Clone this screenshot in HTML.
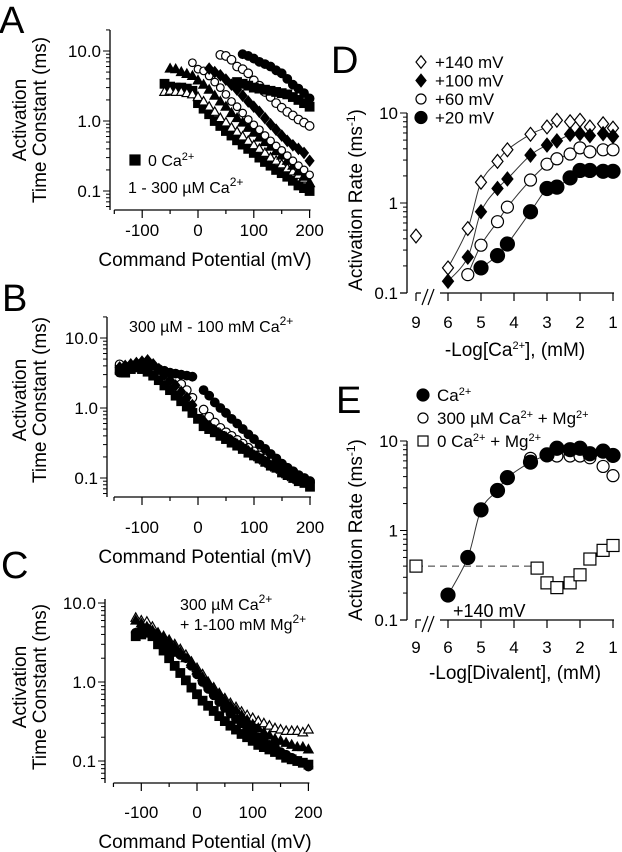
<!DOCTYPE html>
<html><head><meta charset="utf-8">
<style>
html,body{margin:0;padding:0;background:#fff;}
svg{display:block;font-family:"Liberation Sans",Arial,sans-serif;}
</style></head>
<body>
<svg id="fig" width="622" height="852" viewBox="0 0 622 852" xmlns="http://www.w3.org/2000/svg"></svg>
<script>
// ---------- Panel A data (tau, ms), voltages start + step 10 mV ----------
const aSqLowV0 = -60;
const aSqLow = [3.4,3.1,3.0,3.0,2.9,2.7,1.8,1.5,1.25,1.0,0.85,0.72,0.62,0.53,0.46,0.4,0.35,0.3,0.26,0.23,0.2,0.18,0.16,0.14,0.12,0.11,0.1];
const aTriOpenV0 = -60;
const aTriOpen = [2.6,2.7,2.6,2.6,2.5,2.4,2.2,1.9,1.6,1.35,1.1,0.95,0.8,0.7,0.6,0.52,0.45,0.4,0.35,0.3,0.27,0.24,0.21,0.19,0.17,0.15,0.13];
const aTriFillV0 = -50;
const aTriFill = [5.6,5.5,5.0,4.7,4.4,3.8,3.3,2.8,2.3,1.9,1.6,1.3,1.1,0.95,0.8,0.68,0.58,0.5,0.43,0.37,0.32,0.27,0.23,0.19,0.16,0.13];
const aCircSmV0 = -10;
const aCircSm = [6.8,5.5,5.2,4.4,3.6,3.0,2.4,1.9,1.6,1.3,1.05,0.88,0.75,0.62,0.52,0.44,0.38,0.32,0.27,0.23,0.2,0.17];
const aDiaFillV0 = 20;
const aDiaFill = [5.6,5.0,4.5,3.9,3.3,2.8,2.3,1.9,1.6,1.35,1.1,0.9,0.75,0.62,0.52,0.45,0.4,0.35,0.27];
const aCircLgV0 = 40;
const aCircLg = [8.8,8.5,7.5,6.0,5.5,4.8,3.8,3.2,2.6,2.2,1.8,1.55,1.35,1.2,1.05,0.95,0.85];
const aSqHighV0 = 70;
const aSqHigh = [3.6,3.4,3.2,3.0,2.9,2.8,2.7,2.6,2.5,2.4,2.2,2.0,1.8,1.6];
const aCircFillV0 = 80;
const aCircFill = [9.0,8.5,7.8,7.0,6.5,6.0,5.3,4.8,4.0,3.3,2.9,2.5,2.1];

// ---------- Panel B data ----------
const bV0 = -140;
const bSq = [3.5,3.2,3.6,3.8,3.6,3.3,2.9,2.5,2.1,1.8,1.5,1.25,1.05,0.85,0.7,0.55,0.5,0.45,0.4,0.36,0.32,0.29,0.26,0.23,0.21,0.19,0.17,0.15,0.14,0.12,0.11,0.1,0.09,0.085,0.075];
const bCircOpen = [4.2,3.8,4.0,4.2,4.4,4.0,3.8,3.5,3.2,2.9,2.6,2.2,1.8,1.4,null,0.95,0.75,0.62,0.52,0.45,0.4,0.35,0.31,0.27,0.24,0.21,0.19,0.17,0.15,0.13,0.12,0.11,0.1,0.095,0.09];
const bDia = [3.8,4.0,4.2,4.4,4.6,4.8,4.2,3.6,3.0,2.5,2.1,1.7,1.4,1.1,null,0.65,0.55,0.48,0.42,0.38,0.34,0.3,0.27,0.24,0.21,0.19,0.17,0.15,0.14,0.12,0.11,0.1,0.095,0.09,0.085];
const bCircFill = [3.2,3.5,3.8,4.0,4.2,4.5,4.0,3.6,3.4,3.2,3.1,3.0,2.9,2.8,null,1.8,1.5,1.2,1.0,0.85,0.7,0.6,0.5,0.42,0.36,0.3,0.26,0.22,0.19,0.16,0.14,0.125,0.11,0.1,0.09];

// ---------- Panel C data ----------
const cV0 = -110;
const cTriOpen = [6.5,6.0,5.8,5.0,4.2,3.8,3.4,3.0,2.6,2.2,1.8,1.5,1.25,1.0,0.85,0.72,0.62,0.54,0.48,0.42,0.38,0.35,0.32,0.3,0.28,0.26,0.25,0.24,0.24,0.24,0.23,0.25];
const cTriFill = [6.0,5.5,5.0,4.5,4.0,3.6,3.2,2.8,2.4,2.0,1.7,1.4,1.15,0.95,0.8,0.68,0.58,0.5,0.44,0.38,0.33,0.29,0.26,0.23,0.21,0.19,0.18,0.17,0.16,0.15,0.15,0.14];
const cSq = [3.8,4.0,4.2,3.8,3.0,2.5,2.0,1.6,1.3,1.05,0.85,0.7,0.58,0.5,0.43,0.37,0.32,0.28,0.25,0.22,0.2,0.18,0.16,0.15,0.14,0.13,0.12,0.11,0.105,0.1,0.095,0.09];
const cCircFill = [4.2,4.5,4.8,4.2,3.5,3.0,2.6,2.4,2.2,2.0,1.6,1.25,1.0,0.82,0.68,0.56,0.47,0.4,0.34,0.3,0.26,0.23,0.2,0.18,0.16,0.15,0.13,0.12,0.11,0.1,0.095,0.085];

// ---------- Panel D data (-log[Ca], rate ms^-1) ----------
const d140X = [9,6,5.4,5,4.5,4.2,3.5,3,2.7,2.3,2,1.7,1.3,1];
const d140Y = [0.43,0.19,0.52,1.7,2.9,3.9,5.8,7.0,8.3,8.0,8.3,7.0,7.6,6.8];
const d100X = [6,5.4,5,4.5,4.2,3.5,3,2.7,2.3,2,1.7,1.3,1];
const d100Y = [0.135,0.25,0.8,1.45,1.85,3.4,4.4,4.9,5.8,5.9,5.6,5.9,5.5];
const d60X = [5.4,5,4.5,4.2,3.5,3,2.7,2.3,2,1.7,1.3,1];
const d60Y = [0.16,0.34,0.62,0.9,1.8,2.7,3.1,3.5,4.1,3.7,3.9,3.9];
const d20X = [5,4.5,4.2,3.5,3,2.7,2.3,2,1.7,1.3,1];
const d20Y = [0.19,0.26,0.35,0.8,1.45,1.5,1.9,2.3,2.3,2.25,2.25];

// ---------- Panel E data ----------
const eCaX = [6,5.4,5,4.5,4.2,3.5,3,2.7,2.3,2,1.7,1.3,1];
const eCaY = [0.19,0.5,1.7,2.8,3.9,5.8,7.0,8.3,8.0,8.3,7.2,7.7,6.9];
const eMgX = [3.5,3,2.7,2.3,2,1.7,1.3,1];
const eMgY = [6.4,7.0,6.8,6.8,6.8,6.5,5.2,4.1];
const eSqX = [9,3.3,3,2.7,2.3,2,1.7,1.3,1];
const eSqY = [0.4,0.38,0.26,0.23,0.26,0.32,0.48,0.6,0.68];

const NS = "http://www.w3.org/2000/svg";
const svg = document.getElementById('fig');
function mk(tag, attrs, parent){
  const e = document.createElementNS(NS, tag);
  for (const k in attrs) e.setAttribute(k, attrs[k]);
  (parent||svg).appendChild(e);
  return e;
}
function txt(s, x, y, size, anchor, parent, name){
  const t = mk('text', {x:x, y:y, 'font-size':size, 'text-anchor':anchor||'start', fill:'#000'}, parent);
  t.innerHTML = s;
  
  
  return t;
}
function marker(g, type, x, y, r){
  let e;
  const sw = 1.2;
  if (type==='sqF' || type==='sqO'){
    e = mk('rect', {x:x-r, y:y-r, width:2*r, height:2*r, fill: type==='sqF'?'#000':'#fff', stroke:'#000','stroke-width':sw}, g);
  } else if (type==='ciF' || type==='ciO'){
    e = mk('circle', {cx:x, cy:y, r:r, fill: type==='ciF'?'#000':'#fff', stroke:'#000','stroke-width':sw}, g);
  } else if (type==='trF' || type==='trO'){
    e = mk('polygon', {points:`${x},${y-r*1.15} ${x-r*1.1},${y+r*0.8} ${x+r*1.1},${y+r*0.8}`, fill: type==='trF'?'#000':'#fff', stroke:'#000','stroke-width':sw}, g);
  } else {
    e = mk('polygon', {points:`${x},${y-r*1.25} ${x+r},${y} ${x},${y+r*1.25} ${x-r},${y}`, fill: type==='diF'?'#000':'#fff', stroke:'#000','stroke-width':sw}, g);
  }
  
  
}

// ---------- voltage panels ----------
function vPanel(p){
  const g = mk('g', {});
  
  
  const X = v => p.x0 + v*p.sx;
  const Y = t => p.y1 - Math.log10(t)*p.dec;
  const ya = mk('line', {x1:p.yAx, y1:p.yTop, x2:p.yAx, y2:p.yBot, stroke:'#000','stroke-width':1.3}, g);
   
  for (let d=-2; d<=1; d++){
    for (let m=1; m<=9; m++){
      const v = m*Math.pow(10,d); const yy = Y(v);
      if (yy < p.yTop-0.5 || yy > p.yBot+0.5) continue;
      mk('line', {x1:p.yAx-(m===1?7:4), y1:yy, x2:p.yAx, y2:yy, stroke:'#000','stroke-width':1}, g);
    }
  }
  [[10,'10.0'],[1,'1.0'],[0.1,'0.1']].forEach(([v,s])=>txt(s, p.yAx-9, Y(v)+6, 17, 'end', g, 'y-tick-label'));
  const xa = mk('line', {x1:X(-150), y1:p.yBot, x2:X(200)+1, y2:p.yBot, stroke:'#000','stroke-width':1.3}, g);
   
  for (let v=-150; v<=200; v+=50){
    const maj = v%100===0;
    mk('line', {x1:X(v), y1:p.yBot, x2:X(v), y2:p.yBot+(maj?8:4), stroke:'#000','stroke-width':1.2}, g);
    if (maj) txt(String(v), X(v), p.tickY, 17, 'middle', g, 'x-tick-label');
  }
  txt('Command Potential (mV)', 205, p.titleY, 19, 'middle', g, 'x-axis-title');
  const yl = mk('g', {transform:`translate(0,${p.labY}) rotate(-90)`}, g);
   
  txt('Activation', 0, 26, 19, 'middle', yl, 'y-axis-title-line1');
  txt('Time Constant (ms)', 0, 46, 19, 'middle', yl, 'y-axis-title-line2');
  p.series.forEach(s=>{
    const sg = mk('g', {}, g);
     
    s.data.forEach((t,i)=>{ if (t==null) return; marker(sg, s.type, X(s.v0+i*10), Y(t), s.r||4.3); });
  });
  return g;
}

vPanel({name:'panel-a', x0:198, sx:0.558, y1:121, dec:70, yAx:110, yTop:30, yBot:210, tickY:236, titleY:266, labY:120,
  series:[
    {name:'series-a-0ca-squares', type:'sqF', v0:aSqLowV0, data:aSqLow},
    {name:'series-a-open-triangles', type:'trO', v0:aTriOpenV0, data:aTriOpen},
    {name:'series-a-filled-triangles', type:'trF', v0:aTriFillV0, data:aTriFill},
    {name:'series-a-small-circles', type:'ciO', v0:aCircSmV0, data:aCircSm, r:3.8},
    {name:'series-a-filled-diamonds', type:'diF', v0:aDiaFillV0, data:aDiaFill},
    {name:'series-a-open-circles', type:'ciO', v0:aCircLgV0, data:aCircLg, r:4.3},
    {name:'series-a-upper-squares', type:'sqF', v0:aSqHighV0, data:aSqHigh},
    {name:'series-a-filled-circles', type:'ciF', v0:aCircFillV0, data:aCircFill},
  ]});
vPanel({name:'panel-b', x0:198, sx:0.56, y1:408, dec:70, yAx:107, yTop:317, yBot:497, tickY:533, titleY:563, labY:400,
  series:[
    {name:'series-b-open-circles', type:'ciO', v0:bV0, data:bCircOpen},
    {name:'series-b-diamonds', type:'diF', v0:bV0, data:bDia},
    {name:'series-b-filled-circles', type:'ciF', v0:bV0, data:bCircFill},
    {name:'series-b-squares', type:'sqF', v0:bV0, data:bSq},
  ]});
vPanel({name:'panel-c', x0:197, sx:0.557, y1:682, dec:79, yAx:105, yTop:599, yBot:783, tickY:818, titleY:848, labY:687,
  series:[
    {name:'series-c-open-triangles', type:'trO', v0:cV0, data:cTriOpen},
    {name:'series-c-filled-triangles', type:'trF', v0:cV0, data:cTriFill},
    {name:'series-c-squares', type:'sqF', v0:cV0, data:cSq},
    {name:'series-c-filled-circles', type:'ciF', v0:cV0, data:cCircFill},
  ]});

// ---------- concentration panels ----------
function cPanel(p){
  const g = mk('g', {});
   
  const X = v => v>=8 ? 416 : 448 + (6-v)*33;
  const Y = t => p.y10 - (Math.log10(t)-1)*p.dec;
  const yb = Y(0.1);
  const ya = mk('line', {x1:407, y1:Y(10), x2:407, y2:yb, stroke:'#000','stroke-width':1.3}, g);
   
  mk('line', {x1:400, y1:yb, x2:407, y2:yb, stroke:'#000','stroke-width':1.3}, g);
  for (let d=-1; d<=0; d++) for (let m=1; m<=10; m++){
    const yy = Y(m*Math.pow(10,d));
    mk('line', {x1:407-(m===1||m===10?7:4), y1:yy, x2:407, y2:yy, stroke:'#000','stroke-width':1}, g);
  }
  [[10,'10'],[1,'1'],[0.1,'0.1']].forEach(([v,s])=>txt(s, 398, Y(v)+6, 17, 'end', g, 'y-tick-label'));
  mk('line', {x1:416, y1:yb, x2:421, y2:yb, stroke:'#000','stroke-width':1.3}, g);
  mk('line', {x1:416, y1:yb, x2:416, y2:yb+8, stroke:'#000','stroke-width':1.2}, g);
  mk('line', {x1:422, y1:yb+12, x2:428, y2:yb-4, stroke:'#000','stroke-width':1.2}, g);
  mk('line', {x1:428, y1:yb+12, x2:434, y2:yb-4, stroke:'#000','stroke-width':1.2}, g);
  const xa = mk('line', {x1:440, y1:yb, x2:614, y2:yb, stroke:'#000','stroke-width':1.3}, g);
   
  [9,6,5,4,3,2,1].forEach(v=>{
    if (v!==9) mk('line', {x1:X(v), y1:yb, x2:X(v), y2:yb+8, stroke:'#000','stroke-width':1.2}, g);
    txt(String(v), X(v), p.tickY, 17, 'middle', g, 'x-tick-label');
  });
  txt(p.xTitle, 515, p.titleY, 19, 'middle', g, 'x-axis-title');
  const yl = mk('g', {transform:`translate(362,${p.labY}) rotate(-90)`}, g);
   
  txt('Activation Rate (ms<tspan font-size="12" dy="-7">-1</tspan><tspan dy="7">)</tspan>', 0, 0, 19, 'middle', yl, 'y-axis-title-text');
  p.curves.forEach(c=>{
    const pts = c.x.map((v,i)=>[v,c.y[i]]).filter(q=>q[0]<8 && q[0]>=c.min).map(q=>[X(q[0]),Y(q[1])]);
    let d = `M${pts[0][0]},${pts[0][1]}`;
    for (let i=0;i<pts.length-1;i++){
      const p0=pts[Math.max(0,i-1)], p1=pts[i], p2=pts[i+1], p3=pts[Math.min(pts.length-1,i+2)];
      d += ` C${p1[0]+(p2[0]-p0[0])/6},${p1[1]+(p2[1]-p0[1])/6} ${p2[0]-(p3[0]-p1[0])/6},${p2[1]-(p3[1]-p1[1])/6} ${p2[0]},${p2[1]}`;
    }
    const path = mk('path', {d:d, fill:'none', stroke:'#333','stroke-width':1}, g);
     
  });
  if (p.dash){
    const dl = mk('line', {x1:X(9), y1:Y(p.dash.y), x2:X(p.dash.x2), y2:Y(p.dash.y), stroke:'#333','stroke-width':1,'stroke-dasharray':'7,5'}, g);
     
  }
  p.series.forEach(s=>{
    const sg = mk('g', {}, g);
     
    s.x.forEach((v,i)=>marker(sg, s.type, X(v), Y(s.y[i]), s.r));
  });
  p.legend.forEach((l,i)=>{
    const lg = mk('g', {}, g);
     
    marker(lg, l.type, p.legX, p.legY + i*p.legDy - 5, l.r);
    txt(l.label, p.legX+14, p.legY + i*p.legDy + 1, 17, 'start', lg, 'legend-label');
  });
  return g;
}

cPanel({name:'panel-d', y10:113, dec:90, tickY:328, titleY:356, labY:200, xTitle:'-Log[Ca<tspan font-size="11" dy="-7">2+</tspan><tspan dy="7">],  (mM)</tspan>',
  curves:[{x:d140X,y:d140Y,min:2.7},{x:d100X,y:d100Y,min:2.3},{x:d60X,y:d60Y,min:2},{x:d20X,y:d20Y,min:2}],
  series:[
    {name:'series-d-140mv', type:'diO', x:d140X, y:d140Y, r:5.5},
    {name:'series-d-100mv', type:'diF', x:d100X, y:d100Y, r:5.5},
    {name:'series-d-60mv', type:'ciO', x:d60X, y:d60Y, r:6},
    {name:'series-d-20mv', type:'ciF', x:d20X, y:d20Y, r:7},
  ],
  legX:421, legY:67, legDy:18.5,
  legend:[{type:'diO',r:5,label:'+140 mV'},{type:'diF',r:5,label:'+100 mV'},{type:'ciO',r:5,label:'+60 mV'},{type:'ciF',r:6,label:'+20 mV'}]});

cPanel({name:'panel-e', y10:441, dec:89.5, tickY:653, titleY:679, labY:530, xTitle:'-Log[Divalent],  (mM)',
  curves:[{x:eCaX,y:eCaY,min:2.7}],
  dash:{y:0.4, x2:3.3},
  series:[
    {name:'series-e-mg-300ca', type:'ciO', x:eMgX, y:eMgY, r:6},
    {name:'series-e-ca', type:'ciF', x:eCaX, y:eCaY, r:7},
    {name:'series-e-0ca-mg', type:'sqO', x:eSqX, y:eSqY, r:6},
  ],
  legX:423, legY:400, legDy:23,
  legend:[{type:'ciF',r:6,label:'Ca<tspan font-size="11" dy="-6">2+</tspan>'},
          {type:'ciO',r:5,label:'300 µM Ca<tspan font-size="11" dy="-6">2+</tspan><tspan dy="6"> + Mg</tspan><tspan font-size="11" dy="-6">2+</tspan>'},
          {type:'sqO',r:5,label:'0 Ca<tspan font-size="11" dy="-6">2+</tspan><tspan dy="6"> + Mg</tspan><tspan font-size="11" dy="-6">2+</tspan>'}]});
txt('+140 mV', 453, 617, 18, 'start', svg, 'voltage-annotation');

const la = mk('g', {});  
marker(la, 'sqF', 135, 160, 5);
txt('0 Ca<tspan font-size="11" dy="-6">2+</tspan>', 148, 166, 16, 'start', la, 'legend-label');
txt('1 - 300 µM Ca<tspan font-size="12" dy="-7">2+</tspan>', 128, 193, 16, 'start', svg, 'legend-label');
txt('300 µM - 100 mM Ca<tspan font-size="12" dy="-7">2+</tspan>', 129, 332, 16, 'start', svg, 'condition-label');
txt('300 µM Ca<tspan font-size="12" dy="-7">2+</tspan>', 180, 610, 16, 'start', svg, 'condition-label');
txt('+ 1-100 mM Mg<tspan font-size="12" dy="-7">2+</tspan>', 180, 630, 16, 'start', svg, 'condition-label');

txt('A', -1, 33, 38, 'start', svg, 'panel-letter-a');
txt('B', 2, 311, 38, 'start', svg, 'panel-letter-b');
txt('C', 1, 578, 38, 'start', svg, 'panel-letter-c');
txt('D', 331, 73, 38, 'start', svg, 'panel-letter-d');
txt('E', 336, 413, 38, 'start', svg, 'panel-letter-e');
</script>
</body></html>
